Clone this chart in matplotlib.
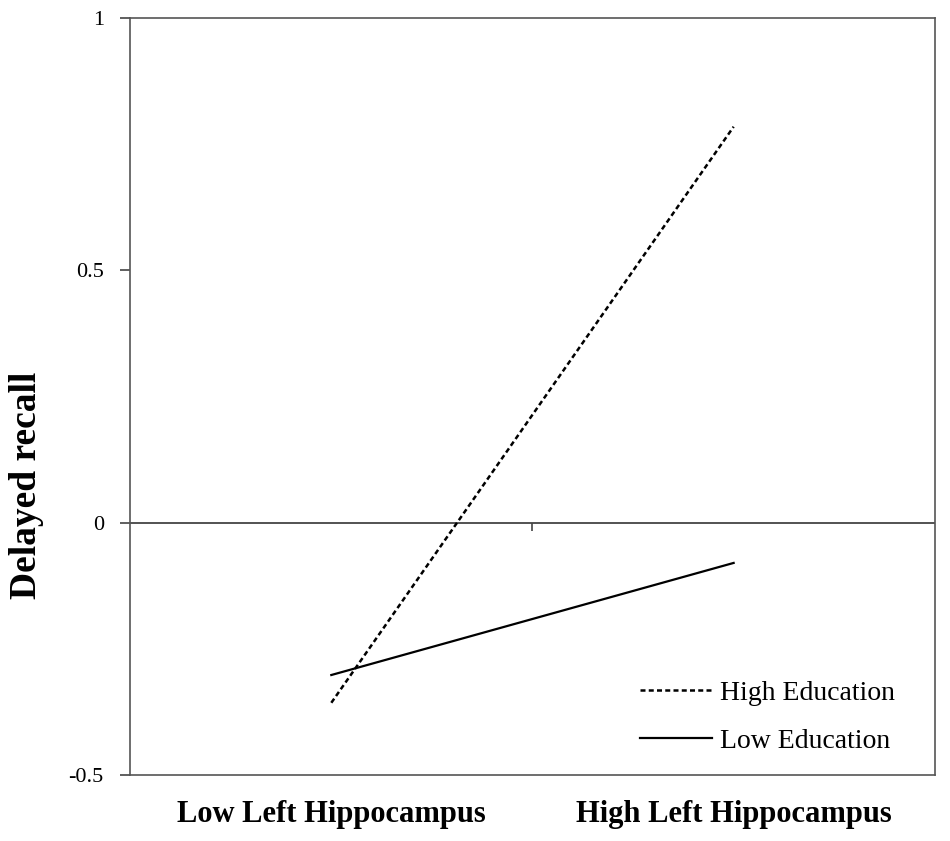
import matplotlib
matplotlib.use("Agg")
import matplotlib.pyplot as plt

categories = ["Low Left Hippocampus", "High Left Hippocampus"]
high_education = [-0.357, 0.784]
low_education = [-0.302, -0.080]
yticks = [-0.5, 0, 0.5, 1]
ytick_labels = ["-0.5", "0", "0.5", "1"]

plt.rcParams['font.family'] = ['Liberation Serif', 'DejaVu Serif']

fig = plt.figure(figsize=(9.5, 8.41), dpi=100)
ax = fig.add_axes([0.137, 0.0785, 0.847, 0.9005])

xpos = [0.5, 1.5]
ax.plot(xpos, high_education, color='black', lw=1.8, linestyle=(0, (2.0, 1.3)), label='High Education')
ax.plot(xpos, low_education, color='black', lw=1.6, linestyle='-', label='Low Education')

ax.set_xlim(0, 2)
ax.set_ylim(-0.5, 1)
ax.axhline(0, color='#444444', lw=1.3, zorder=1)

ax.set_yticks(yticks)
ax.set_yticklabels(ytick_labels, fontsize=16)
ax.tick_params(axis='y', direction='out', length=7, width=1.2, color='#444444', pad=12)

ax.set_xticks(xpos)
ax.set_xticklabels(categories, fontsize=22, fontweight='bold')
ax.tick_params(axis='x', length=0, pad=18)

sec = ax.secondary_xaxis(1/3)
sec.set_xticks([1])
sec.set_xticklabels([''])
sec.tick_params(direction='out', length=6, width=1.2, color='#444444')
sec.spines['bottom'].set_visible(False)
sec.spines['top'].set_visible(False)

for s in ax.spines.values():
    s.set_color('#555555')
    s.set_linewidth(1.2)

ax.set_ylabel('Delayed recall', fontsize=27, fontweight='bold')
ax.yaxis.set_label_coords(-0.107, 0.383)

leg = ax.legend(loc='lower right', bbox_to_anchor=(0.982, -0.005), frameon=False, fontsize=20,
                handlelength=2.6, handletextpad=0.3, labelspacing=0.8)

fig.savefig('out.png', dpi=100)
